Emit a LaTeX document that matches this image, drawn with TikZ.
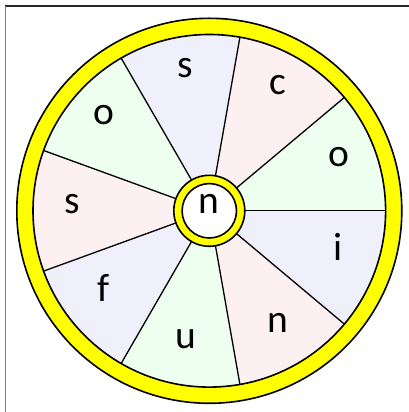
\documentclass[tikz,border=0pt]{standalone}
\usepackage{fontspec}
\setmainfont{Carlito}
\usetikzlibrary{calc}
\definecolor{wyellow}{RGB}{255,255,0}
\definecolor{wgreen}{RGB}{238,255,240}
\definecolor{wpink}{RGB}{253,240,240}
\definecolor{wblue}{RGB}{240,240,253}
\tikzset{
  letter/.style={font=\fontsize{39.5}{41}\selectfont, text height=0.466em, text depth=0pt, inner sep=0pt, anchor=center},
  outline/.style={draw=black, line width=1.6pt},
  spoke/.style={draw=black, line width=1.3pt},
}
\begin{document}
\begin{tikzpicture}[x=1pt,y=1pt]
\useasboundingbox (0,0) rectangle (409,412);
\fill[white] (0,0) rectangle (409,412);
% frame
\draw[black!85, line width=1.5pt] (4.8,406) -- (409,406);
\draw[black!50, line width=1pt] (5.5,406) -- (5.5,0);
\coordinate (C) at (209.3,201.2);
% outer ring
\fill[wyellow] (C) circle[radius=192.5];
\draw[outline] (C) circle[radius=192.5];
% sectors
\foreach \a/\col in {0/wgreen,40/wpink,80/wblue,120/wgreen,160/wpink,200/wblue,240/wgreen,280/wpink,320/wblue}{
  \fill[\col] (C) -- ++(\a:176.3) arc[start angle=\a, delta angle=40, radius=176.3] -- cycle;
}
\foreach \a in {0,40,...,320}{
  \draw[spoke] (C) -- ++(\a:176.3);
}
\draw[outline] (C) circle[radius=176.3];
% hub
\fill[wyellow] (C) circle[radius=35.5];
\draw[outline] (C) circle[radius=35.5];
\fill[white] (C) circle[radius=27.2];
\draw[outline] (C) circle[radius=27.2];
\node[letter] (hub) at (C) {n};
% letters
\node[letter] (l1) at ($(C)+(20:137.5)$) {o};
\node[letter] (l2) at ($(C)+(60:137.5)$) {c};
\node[letter] (l3) at ($(C)+(100:137.5)$) {s};
\node[letter] (l4) at ($(C)+(140:137.5)$) {o};
\node[letter] (l5) at ($(C)+(180:137.5)$) {s};
\node[letter] (l6) at ($(C)+(220:137.5)$) {f};
\node[letter] (l7) at ($(C)+(260:137.5)$) {u};
\node[letter] (l8) at ($(C)+(300:137.5)$) {n};
\node[letter] (l9) at ($(C)+(340:137.5)$) {i};
\end{tikzpicture}
\end{document}
